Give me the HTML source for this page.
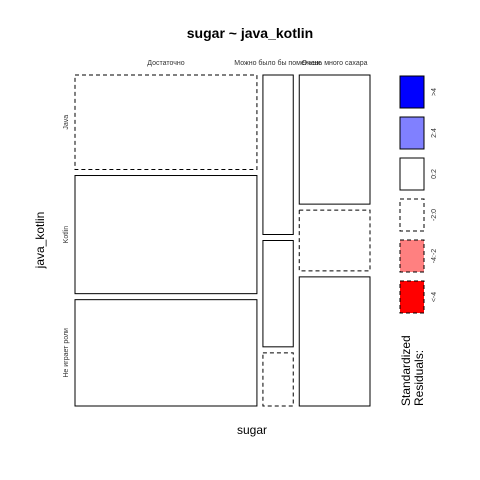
<!DOCTYPE html>
<html><head><meta charset="utf-8"><style>
body{margin:0;background:#fff}
svg{display:block;font-family:"Liberation Sans",sans-serif}
</style></head><body>
<svg id="c" width="480" height="480">
<text x="250" y="38" font-size="14" font-weight="bold" text-anchor="middle">sugar ~ java_kotlin</text>
<text x="252" y="434" font-size="12" text-anchor="middle">sugar</text>
<text transform="translate(44,240) rotate(-90)" font-size="12" text-anchor="middle">java_kotlin</text>
<g id="legend"></g>
<text transform="translate(410,406) rotate(-90)" font-size="12"><tspan x="0" dy="0">Standardized</tspan><tspan x="0" dy="13">Residuals:</tspan></text>
</svg>
<script>
const sugarCats = ["Достаточно","Можно было бы поменьше","Очень много сахара"];
const langCats = ["Java","Kotlin","Не играет роли"];
const counts = [[32,40,36],[9,6,3],[17,8,17]];
const dashed = [[1,0,0],[0,0,1],[0,1,0]];
const legendLabels = [">4","2:4","0:2","-2:0","-4:-2","<-4"];
const legendFills = ["#0000ff","#8080ff","#ffffff","#ffffff","#ff8080","#ff0000"];
const legendDashed = [0,0,0,1,1,1];

const NS="http://www.w3.org/2000/svg";
const svg=document.getElementById('c');
const x0=75,x1=370,y0=75,y1=406,gap=6;
const colTot=counts.map(c=>c.reduce((a,b)=>a+b,0));
const grand=colTot.reduce((a,b)=>a+b,0);
const wAvail=(x1-x0)-gap*(counts.length-1);
function mk(t,a){const e=document.createElementNS(NS,t);for(const k in a)e.setAttribute(k,a[k]);return e;}
let cx=x0;
counts.forEach((col,i)=>{
  const w=colTot[i]/grand*wAvail;
  const lab=mk('text',{x:cx+w/2,y:65,'font-size':7,'text-anchor':'middle',fill:'#333'});
  
  
  lab.textContent=sugarCats[i];svg.appendChild(lab);
  const hAvail=(y1-y0)-gap*(col.length-1);
  let cy=y0;
  col.forEach((v,j)=>{
    const h=v/colTot[i]*hAvail;
    const r=mk('rect',{x:cx,y:cy,width:w,height:h,fill:'#fff',stroke:'#000','stroke-width':1});
    if(dashed[i][j])r.setAttribute('stroke-dasharray','4,3');
    
    
    svg.appendChild(r);
    if(i===0){
      const t=mk('text',{transform:`translate(68,${cy+h/2}) rotate(-90)`,'font-size':7,'text-anchor':'middle',fill:'#333'});
      
      
      t.textContent=langCats[j];svg.appendChild(t);
    }
    cy+=h+gap;
  });
  cx+=w+gap;
});
const lg=document.getElementById('legend');
legendLabels.forEach((l,k)=>{
  const y=76+k*41;
  const r=mk('rect',{x:400,y:y,width:24,height:32,fill:legendFills[k],stroke:'#000'});
  if(legendDashed[k])r.setAttribute('stroke-dasharray','4,3');
  
  
  lg.appendChild(r);
  const t=mk('text',{transform:`translate(436,${y+16}) rotate(-90)`,'font-size':7,'text-anchor':'middle',fill:'#333'});
  
  
  t.textContent=l;lg.appendChild(t);
});
</script>
</body></html>
